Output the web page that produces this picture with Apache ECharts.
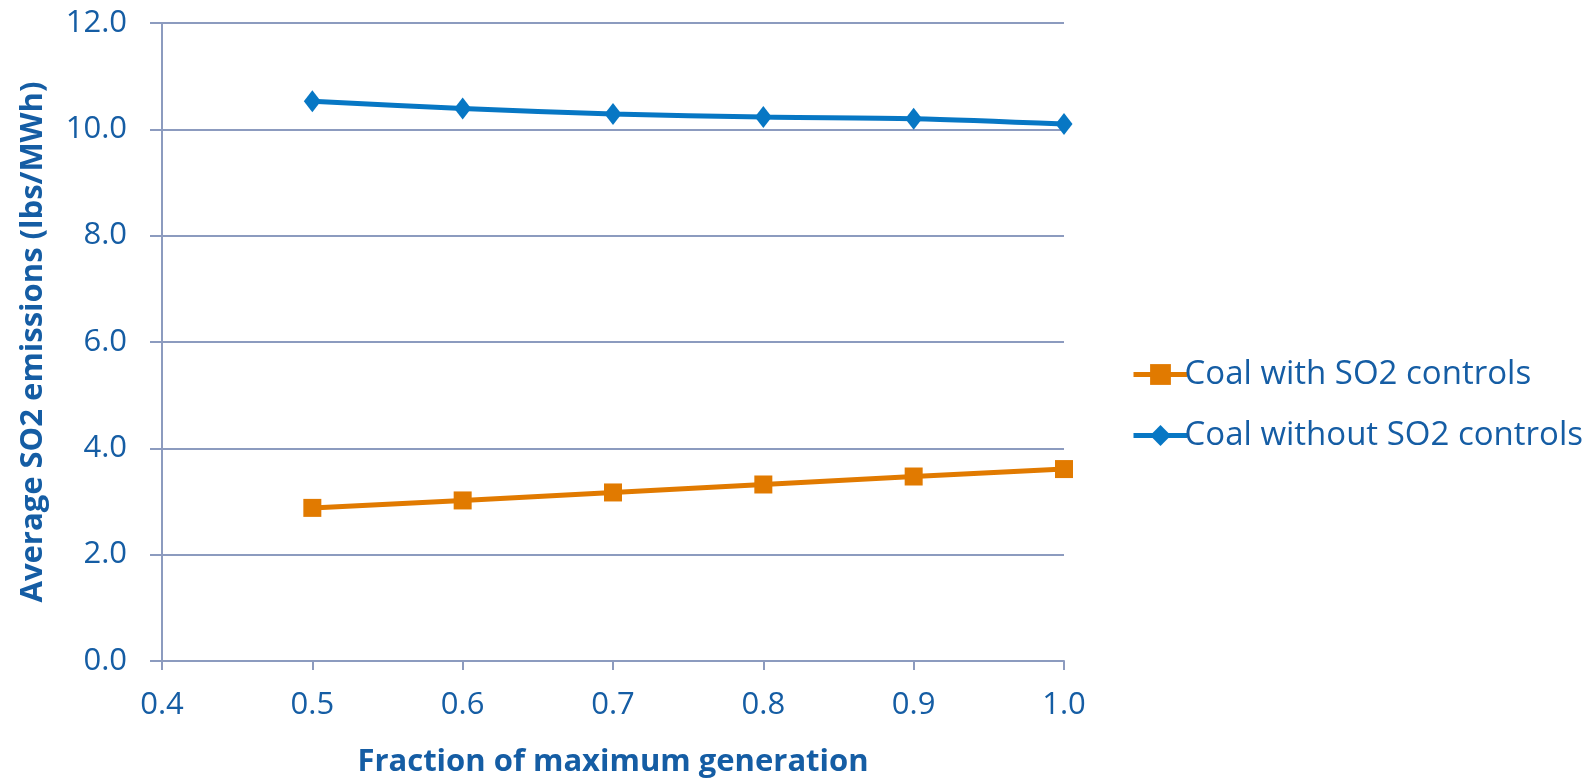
<!DOCTYPE html>
<html>
<head>
<meta charset="utf-8">
<title>Average SO2 emissions</title>
<script src="https://cdn.jsdelivr.net/npm/echarts@6/dist/echarts.min.js"></script>
<style>
  html, body { margin: 0; padding: 0; background: #ffffff; }
  #chart { width: 1590px; height: 783px; }
</style>
</head>
<body>
<div id="chart"></div>
<script>
// Fraction of maximum generation (x) and average SO2 emission rates (lbs/MWh)
const fractions = [0.5, 0.6, 0.7, 0.8, 0.9, 1.0];
const withControls = [2.88, 3.02, 3.17, 3.32, 3.47, 3.61];
const withoutControls = [10.53, 10.39, 10.29, 10.23, 10.20, 10.10];
const seriesNames = ['Coal with SO2 controls', 'Coal without SO2 controls'];

const textColor = '#155da4';
const gridColor = '#8c9bbf';
const fontFamily = 'Open Sans, Noto Sans, sans-serif';

const pairs = (xs, ys) => xs.map((x, i) => [x, ys[i]]);

const chart = echarts.init(document.getElementById('chart'));
chart.setOption({
  animation: false,
  textStyle: { fontFamily: fontFamily },
  grid: { left: 162, right: 526, top: 23, bottom: 120 },
  legend: {
    orient: 'vertical',
    left: 1126,
    top: 353,
    itemWidth: 54,
    itemHeight: 26,
    itemGap: 28,
    lineStyle: { width: 5 },
    textStyle: { color: textColor, fontSize: 33, fontFamily: fontFamily, padding: [0, 0, 0, -8] },
    data: seriesNames
  },
  xAxis: {
    type: 'value',
    min: 0.4,
    max: 1.0,
    interval: 0.1,
    name: 'Fraction of maximum generation',
    nameLocation: 'middle',
    nameGap: 86,
    nameTextStyle: { color: textColor, fontSize: 31, fontWeight: 'bold', fontFamily: fontFamily },
    axisLine: { show: true, lineStyle: { color: gridColor, width: 2 } },
    axisTick: { show: true, length: 9, lineStyle: { color: gridColor, width: 2 } },
    axisLabel: {
      color: textColor, fontSize: 31, margin: 29,
      formatter: v => v.toFixed(1)
    },
    splitLine: { show: false }
  },
  yAxis: {
    type: 'value',
    min: 0,
    max: 12,
    interval: 2,
    name: 'Average SO2 emissions (lbs/MWh)',
    nameLocation: 'middle',
    nameGap: 113,
    nameRotate: 90,
    nameTextStyle: { color: textColor, fontSize: 31, fontWeight: 'bold', fontFamily: fontFamily },
    axisLine: { show: true, lineStyle: { color: gridColor, width: 2 } },
    axisTick: { show: true, length: 12, lineStyle: { color: gridColor, width: 2 } },
    axisLabel: {
      color: textColor, fontSize: 31, margin: 35,
      formatter: v => v.toFixed(1)
    },
    splitLine: { show: true, lineStyle: { color: gridColor, width: 2 } }
  },
  series: [
    {
      name: seriesNames[0],
      type: 'line',
      data: pairs(fractions, withControls),
      smooth: 0.3,
      symbol: 'rect',
      symbolSize: 18,
      lineStyle: { color: '#e17a00', width: 5 },
      itemStyle: { color: '#e17a00' }
    },
    {
      name: seriesNames[1],
      type: 'line',
      data: pairs(fractions, withoutControls),
      smooth: 0.3,
      symbol: 'diamond',
      symbolSize: [17, 22],
      lineStyle: { color: '#0777c4', width: 5 },
      itemStyle: { color: '#0777c4' }
    }
  ]
});
</script>
</body>
</html>
